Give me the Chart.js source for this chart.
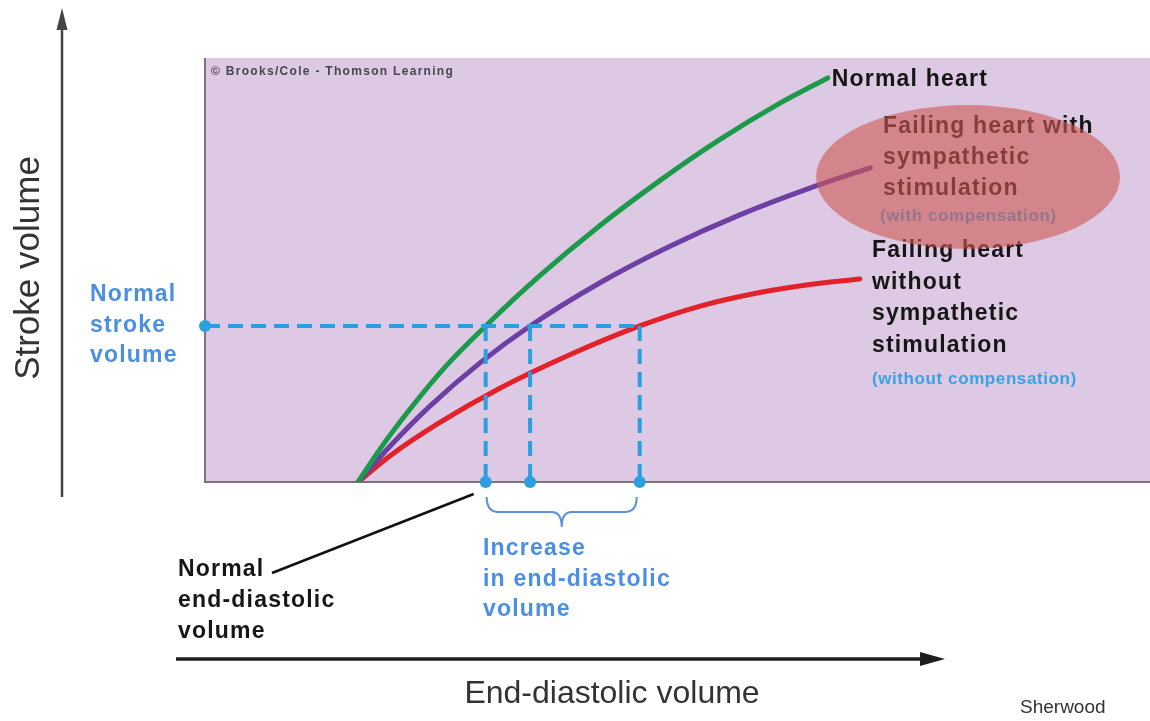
<!DOCTYPE html>
<html>
<head>
<meta charset="utf-8">
<title>Frank-Starling curves</title>
<script src="https://cdn.jsdelivr.net/npm/chart.js@4.4.0/dist/chart.umd.min.js"></script>
<style>
  html, body { margin: 0; padding: 0; background: #fff; overflow: hidden; }
  #wrap { width: 1150px; height: 721px; position: relative; }
</style>
</head>
<body>
<div id="wrap"><canvas id="starling"></canvas></div>
<script>
// end-diastolic volume (x) vs stroke volume (y), schematic units 0-100
const normalEdv = [16.2, 18.5, 21.7, 25.4, 29.7, 35.4, 41.8, 48.2, 54.5, 60.8, 65.9];
const normalSv  = [0, 7.7, 17.2, 27.1, 36.8, 48.6, 60.5, 71.2, 80.8, 89.3, 95.3];
const sympEdv   = [16.2, 19.6, 23.8, 29.1, 34.4, 41.8, 49.2, 56.6, 64.0, 70.4];
const sympSv    = [0, 8.5, 17.9, 28.1, 36.8, 47.0, 55.6, 63.0, 69.3, 74.1];
const failEdv   = [16.2, 19.6, 24.9, 31.2, 38.6, 46.0, 52.4, 58.7, 64.0, 69.3];
const failSv    = [0, 6.2, 14.1, 22.1, 30.0, 36.8, 41.5, 44.7, 46.6, 47.9];
const normalStrokeVolume = 36.8;
const edvAtNormalSv = [29.7, 34.4, 46.0]; // normal, with compensation, without

const toPoints = (xs, ys) => xs.map((x, i) => ({ x: x, y: ys[i] }));

const BLUE = '#2b9fdf';
const LABEL_BLUE = '#4b8fe2';

// dashed guide lines for the normal stroke volume
const guideSets = [{
    data: [{ x: 0, y: normalStrokeVolume }, { x: Math.max(...edvAtNormalSv), y: normalStrokeVolume }],
    pointRadius: [6, 0]
}].concat(edvAtNormalSv.map(e => ({
    data: [{ x: e, y: normalStrokeVolume }, { x: e, y: 0 }],
    pointRadius: [0, 6]
}))).map(d => Object.assign(d, {
    showLine: true,
    borderColor: BLUE,
    backgroundColor: BLUE,
    pointBorderWidth: 0,
    borderWidth: 4,
    borderDash: [15, 8],
    clip: false,
    order: 0
}));

const curve = (pts, color) => ({
    data: pts,
    showLine: true,
    borderColor: color,
    borderWidth: 5,
    pointRadius: 0,
    cubicInterpolationMode: 'monotone',
    borderCapStyle: 'round',
    order: 1
});

function drawLines(ctx, arr, x, y, step, font, color, spacing) {
    ctx.font = font;
    ctx.fillStyle = color;
    ctx.letterSpacing = (spacing || 0) + 'px';
    ctx.textAlign = 'left';
    ctx.textBaseline = 'middle';
    arr.forEach((t, i) => ctx.fillText(t, x, y + i * step));
    ctx.letterSpacing = '0px';
}

const BOLD = 'bold 23px "Liberation Sans", Arial, sans-serif';

const decorPlugin = {
    id: 'decor',
    beforeDatasetsDraw(chart) {
        const { ctx, chartArea: a } = chart;
        ctx.save();
        ctx.fillStyle = '#ddc9e3';
        ctx.fillRect(a.left, a.top, a.right - a.left, a.bottom - a.top);
        ctx.strokeStyle = '#7e727f';
        ctx.lineWidth = 2;
        ctx.beginPath();
        ctx.moveTo(a.left, a.top);
        ctx.lineTo(a.left, a.bottom);
        ctx.lineTo(a.right, a.bottom);
        ctx.stroke();
        drawLines(ctx, ['\u00A9 Brooks/Cole - Thomson Learning'], a.left + 6, a.top + 14, 0,
            'bold 12px "Liberation Sans", Arial, sans-serif', '#4a4450', 1.3);
        ctx.restore();
    },
    afterDatasetsDraw(chart) {
        const { ctx } = chart;
        const xs = chart.scales.x, ys = chart.scales.y;
        ctx.save();

        // curve end labels
        const gx = xs.getPixelForValue(normalEdv[normalEdv.length - 1]);
        const gy = ys.getPixelForValue(normalSv[normalSv.length - 1]);
        drawLines(ctx, ['Normal heart'], gx + 4, gy + 2, 0, BOLD, '#161616', 1.2);
        drawLines(ctx, ['Failing heart with', 'sympathetic', 'stimulation'], 883, 127, 31, BOLD, '#161616', 1.2);
        drawLines(ctx, ['(with compensation)'], 880, 216, 0,
            'bold 17px "Liberation Sans", Arial, sans-serif', '#38a2e6', 0.6);
        const fx = xs.getPixelForValue(failEdv[failEdv.length - 1]);
        drawLines(ctx, ['Failing heart', 'without', 'sympathetic', 'stimulation'], fx + 12, 251, 31.5, BOLD, '#161616', 1.2);
        drawLines(ctx, ['(without compensation)'], fx + 12, 379, 0,
            'bold 17px "Liberation Sans", Arial, sans-serif', '#38a2e6', 0.6);

        // normal stroke volume label
        const svY = ys.getPixelForValue(normalStrokeVolume);
        drawLines(ctx, ['Normal', 'stroke', 'volume'], 90, svY - 31, 30.5, BOLD, LABEL_BLUE, 1.2);

        // normal EDV label + leader line
        drawLines(ctx, ['Normal', 'end-diastolic', 'volume'], 178, 570, 31, BOLD, '#161616', 1.2);
        const e0 = xs.getPixelForValue(edvAtNormalSv[0]);
        ctx.strokeStyle = '#111';
        ctx.lineWidth = 2.5;
        ctx.beginPath();
        ctx.moveTo(272, 573);
        ctx.lineTo(e0 - 12, 494);
        ctx.stroke();

        // brace under the increased EDV
        const b1 = e0 + 1, b2 = xs.getPixelForValue(edvAtNormalSv[2]) - 3, bm = (b1 + b2) / 2;
        ctx.strokeStyle = '#5a91da';
        ctx.lineWidth = 2;
        ctx.beginPath();
        ctx.moveTo(b1, 497);
        ctx.quadraticCurveTo(b1, 512, b1 + 12, 512);
        ctx.lineTo(bm - 10, 512);
        ctx.quadraticCurveTo(bm, 512, bm, 527);
        ctx.quadraticCurveTo(bm, 512, bm + 10, 512);
        ctx.lineTo(b2 - 12, 512);
        ctx.quadraticCurveTo(b2, 512, b2, 497);
        ctx.stroke();
        drawLines(ctx, ['Increase', 'in end-diastolic', 'volume'], 483, 549, 30.5, BOLD, LABEL_BLUE, 1.2);

        // axis arrows
        ctx.strokeStyle = '#454545';
        ctx.fillStyle = '#454545';
        ctx.lineWidth = 2.5;
        ctx.beginPath();
        ctx.moveTo(62, 497);
        ctx.lineTo(62, 24);
        ctx.stroke();
        ctx.beginPath();
        ctx.moveTo(62, 8);
        ctx.lineTo(56.5, 30);
        ctx.lineTo(67.5, 30);
        ctx.closePath();
        ctx.fill();

        ctx.strokeStyle = '#1e1e1e';
        ctx.fillStyle = '#1e1e1e';
        ctx.lineWidth = 3.5;
        ctx.beginPath();
        ctx.moveTo(176, 659);
        ctx.lineTo(926, 659);
        ctx.stroke();
        ctx.beginPath();
        ctx.moveTo(945, 659);
        ctx.lineTo(920, 652);
        ctx.lineTo(920, 666);
        ctx.closePath();
        ctx.fill();

        // axis titles
        ctx.fillStyle = '#333';
        ctx.font = '32px "Liberation Sans", Arial, sans-serif';
        ctx.textAlign = 'center';
        ctx.textBaseline = 'middle';
        ctx.fillText('End-diastolic volume', 612, 694);
        ctx.save();
        ctx.translate(29, 268);
        ctx.rotate(-Math.PI / 2);
        ctx.font = '35px "Liberation Sans", Arial, sans-serif';
        ctx.fillText('Stroke volume', 0, 0);
        ctx.restore();
        ctx.font = '19px "Liberation Sans", Arial, sans-serif';
        ctx.textAlign = 'left';
        ctx.fillText('Sherwood', 1020, 708);

        // red highlight ellipse over the compensated label
        ctx.fillStyle = 'rgba(206, 89, 82, 0.6)';
        ctx.beginPath();
        ctx.ellipse(968, 177, 152, 72, 0, 0, Math.PI * 2);
        ctx.fill();
        ctx.restore();
    }
};

new Chart(document.getElementById('starling'), {
    type: 'scatter',
    data: {
        datasets: guideSets.concat([
            curve(toPoints(normalEdv, normalSv), '#1c9a4c'),
            curve(toPoints(sympEdv, sympSv), '#6b3fa3'),
            curve(toPoints(failEdv, failSv), '#e3212b')
        ])
    },
    options: {
        responsive: true,
        maintainAspectRatio: false,
        animation: false,
        events: [],
        layout: { autoPadding: false, padding: { left: 205, top: 58, right: 0, bottom: 239 } },
        plugins: {
            legend: { display: false },
            title: { display: false },
            tooltip: { enabled: false }
        },
        scales: {
            x: { type: 'linear', min: 0, max: 100, display: false },
            y: { type: 'linear', min: 0, max: 100, display: false }
        }
    },
    plugins: [decorPlugin]
});
</script>
</body>
</html>
